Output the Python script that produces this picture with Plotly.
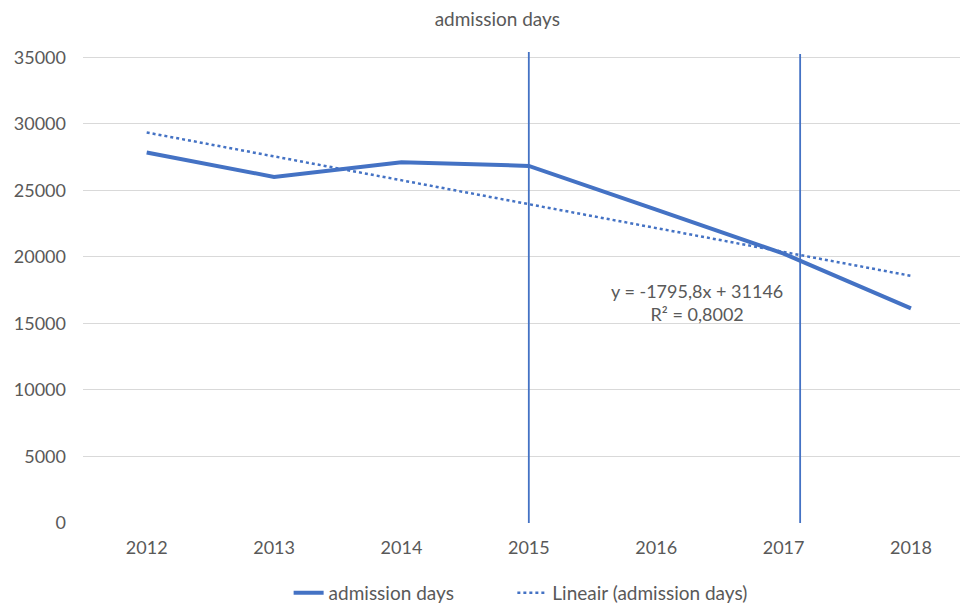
import plotly.graph_objects as go

# ---- data ----
years = [2012, 2013, 2014, 2015, 2016, 2017, 2018]
admission_days = [27850, 26010, 27110, 26840, 23550, 20250, 16130]
trend_slope = -1795.8
trend_intercept = 31146
r_squared = "0,8002"
marker_years = [2015, 2017.13]
marker_top = [35400, 35250]
y_ticks = [0, 5000, 10000, 15000, 20000, 25000, 30000, 35000]

BLUE = "#4472C4"
TEXT = "#595959"
FONT = "Lato"
NBSP = "\u00a0"

trend_x = list(range(1, len(years) + 1))
trend_y = [trend_slope * i + trend_intercept for i in trend_x]

fig = go.Figure()
fig.add_trace(go.Scatter(
    x=years, y=admission_days, mode="lines",
    name="admission days" + NBSP * 11,
    line=dict(color=BLUE, width=4), cliponaxis=False,
))
fig.add_trace(go.Scatter(
    x=years, y=trend_y, mode="lines", name="Lineair (admission days)",
    line=dict(color=BLUE, width=2.5, dash="dot"),
))

for xv, top in zip(marker_years, marker_top):
    fig.add_shape(type="line", xref="x", yref="y", x0=xv, x1=xv, y0=0, y1=top,
                  line=dict(color=BLUE, width=1.8), layer="above")

fig.add_annotation(
    x=2016.32, y=16600, xref="x", yref="y",
    text="y = -1795,8x + 31146<br>R² = " + r_squared,
    showarrow=False, align="center",
    font=dict(family=FONT, size=18, color=TEXT),
)

fig.update_layout(
    width=960, height=605,
    margin=dict(l=83, r=0, t=52, b=82, autoexpand=False),
    paper_bgcolor="white", plot_bgcolor="white",
    font=dict(family=FONT, size=18, color=TEXT),
    title=dict(text="admission days", x=0.518, xanchor="center",
               y=1 - 19 / 605, yanchor="middle",
               font=dict(family=FONT, size=19, color=TEXT)),
    showlegend=True,
    legend=dict(orientation="h", x=0.499, xanchor="center",
                y=-0.1486, yanchor="middle",
                font=dict(family=FONT, size=19, color=TEXT),
                bgcolor="rgba(0,0,0,0)"),
    xaxis=dict(range=[2011.5, 2018.385], tickmode="array", tickvals=years,
               ticktext=[str(y) for y in years], showgrid=False,
               zeroline=False, showline=False, ticks="",
               ticklabelstandoff=12, automargin=False,
               tickfont=dict(family=FONT, size=18, color=TEXT)),
    yaxis=dict(range=[0, 35400], tickmode="array", tickvals=y_ticks,
               ticktext=[str(v) for v in y_ticks],
               showgrid=True, gridcolor="#D9D9D9", gridwidth=1,
               zeroline=False, showline=False, ticks="",
               ticklabelstandoff=16, automargin=False,
               tickfont=dict(family=FONT, size=18, color=TEXT)),
)

fig.write_html("out.html", config={"displayModeBar": False},
               post_script="document.body.style.margin='0px';")
